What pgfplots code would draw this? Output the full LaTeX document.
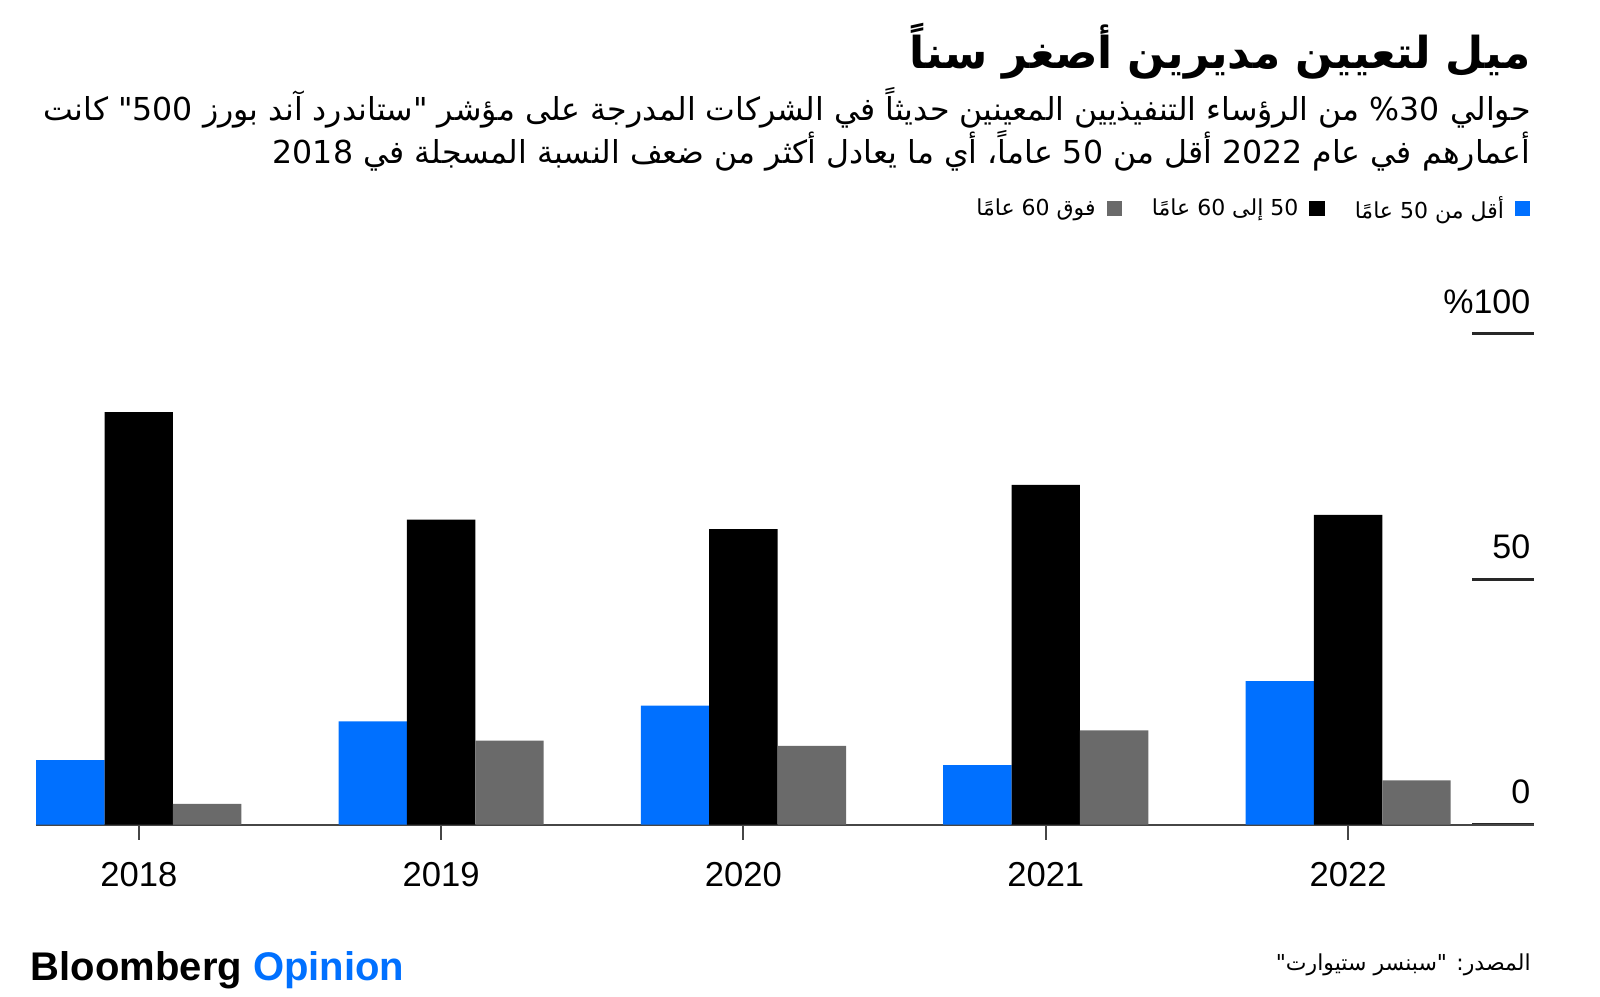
\documentclass[border=0pt]{standalone}
\usepackage{pgfplots}
\pgfplotsset{compat=1.18}
\usepackage{fontspec}
\setmainfont{Liberation Sans}
\newfontfamily\arabicfont[Script=Arabic]{DejaVu Sans}
\TeXXeTstate=1
\definecolor{bblue}{RGB}{0,112,255}
\definecolor{bgray}{RGB}{106,106,106}
\definecolor{axgray}{RGB}{70,70,70}
\definecolor{tickdark}{RGB}{40,40,40}
\begin{document}
\begin{tikzpicture}[x=0.5pt,y=0.5pt]
\path[use as bounding box] (0,0) rectangle (1600,996);
\coordinate (axorig) at (35.7,171.5);
\begin{axis}[
  at={(axorig)}, anchor=south west,
  scale only axis, width=749pt, height=245.4pt,
  xmin=-0.341, xmax=4.614, ymin=0, ymax=100,
  ybar=0pt, bar width=0.2262,
  axis x line*=bottom, axis y line*=right,
  x axis line style={draw=axgray, line width=1pt, -},
  y axis line style={draw=none},
  xtick={0,1,2,3,4}, xticklabels={2018,2019,2020,2021,2022},
  ytick={0,50,100}, yticklabels={0,50,\%100},
  xtick align=outside, ytick align=inside,
  xtick style={draw=axgray, line width=1pt, /pgfplots/major tick length=7.5pt},
  ytick style={draw=tickdark, line width=1.5pt, /pgfplots/major tick length=31pt},
  /pgf/number format/assume math mode=true,
  xticklabel style={font=\fontsize{17.3}{20}\selectfont, anchor=north, inner sep=0pt, yshift=-14.5pt},
  yticklabel style={font=\fontsize{17}{20}\selectfont, anchor=base east, inner sep=0pt, xshift=-1.5pt, yshift=10.3pt},
  legend plot pos=right, reverse legend, legend columns=3,
  legend image code/.code={\fill[#1] (0pt,-3.8pt) rectangle (7.7pt,3.9pt);},
  legend style={at={(1,1)}, anchor=east, xshift=-1.5pt, yshift=62.4pt, draw=none, fill=none, inner sep=0pt,
    font=\arabicfont\fontsize{11}{13}\selectfont,
    /tikz/every odd column/.append style={column sep=3.5pt},
    /tikz/every even column/.append style={column sep=13pt}},
]
\addplot[fill=bblue, draw=none] coordinates {(0,13.1) (1,21.0) (2,24.2) (3,12.1) (4,29.2)};
\addlegendentry{\beginR أقل من 50 عامًا\endR}
\addplot[fill=black, draw=none] coordinates {(0,84.0) (1,62.1) (2,60.2) (3,69.2) (4,63.1)};
\addlegendentry{\beginR 50 إلى 60 عامًا\endR}
\addplot[fill=bgray, draw=none] coordinates {(0,4.2) (1,17.1) (2,16.0) (3,19.2) (4,9.0)};
\addlegendentry{\beginR فوق 60 عامًا\endR}
\end{axis}
\node[anchor=base east, inner sep=0pt] at (1531,927) {\arabicfont\bfseries\fontsize{22}{26}\selectfont\beginR ميل لتعيين مديرين أصغر سناً\endR};
\node[anchor=base east, inner sep=0pt] at (1531,875.6) {\arabicfont\fontsize{15.8}{19}\selectfont\beginR حوالي \beginL\%30\endL{} من الرؤساء التنفيذيين المعينين حديثاً في الشركات المدرجة على مؤشر "ستاندرد آند بورز 500" كانت\endR};
\node[anchor=base east, inner sep=0pt] at (1531,832.7) {\arabicfont\fontsize{15.8}{19}\selectfont\beginR أعمارهم في عام 2022 أقل من 50 عاماً، أي ما يعادل أكثر من ضعف النسبة المسجلة في 2018\endR};
\node[anchor=base west, inner sep=0pt] at (30.6,16) {\fontsize{20}{24}\selectfont\bfseries Bloomberg \textcolor{bblue}{Opinion}};
\node[anchor=base east, inner sep=0pt] at (1531,26) {\arabicfont\fontsize{11}{13}\selectfont\beginR المصدر: "سبنسر ستيوارت"\endR};
\end{tikzpicture}
\end{document}
